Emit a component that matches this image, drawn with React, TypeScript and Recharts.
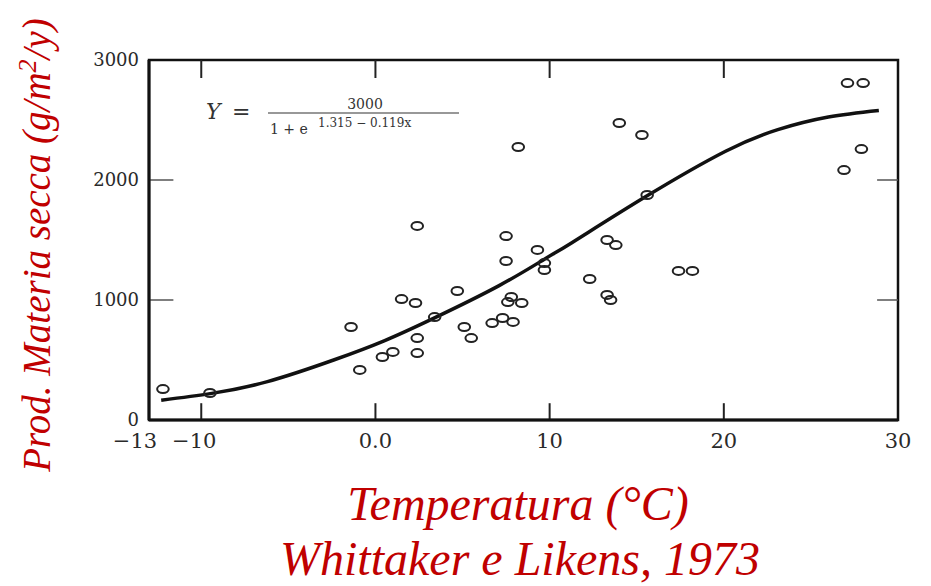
import React from 'react';
import {
  ComposedChart, XAxis, YAxis, Scatter, Line, ReferenceArea, ReferenceLine, Customized,
} from 'recharts';

const pointX = [-12.2, -9.5, -1.4, -0.9, 0.4, 1.0, 1.5, 2.3, 2.4, 2.4, 2.4, 3.4, 4.7, 5.1, 5.5, 6.7, 7.3, 7.5, 7.5, 7.8, 7.6, 7.9, 8.4, 8.2, 9.3, 9.7, 9.7, 12.3, 13.3, 13.8, 13.3, 13.5, 14.0, 15.3, 15.6, 17.4, 18.2, 27.1, 28.0, 27.9, 26.9];
const pointY = [258, 225, 775, 417, 525, 567, 1008, 975, 1617, 683, 558, 858, 1075, 775, 683, 808, 850, 1533, 1325, 1025, 983, 817, 975, 2275, 1417, 1308, 1250, 1175, 1500, 1458, 1042, 1000, 2475, 2375, 1875, 1242, 1242, 2808, 2808, 2258, 2083];

const curveX = [-12.3, -9.4, -6.2, -2.4, 0.5, 3.3, 7.1, 9.7, 11.3, 15.5, 20.1, 23.1, 26.0, 28.9];
const curveY = [165, 222, 320, 500, 660, 845, 1120, 1340, 1480, 1860, 2240, 2420, 2525, 2580];

const xTicks = [-13, -10, 0, 10, 20, 30];
const xTickLabels = ['\u221213', '\u221210', '0.0', '10', '20', '30'];
const yTicks = [0, 1000, 2000, 3000];
const yTickLabels = ['0', '1000', '2000', '3000'];
const xInnerTicks = [-10, 0, 10, 20];
const yInnerTicks = [1000, 2000];

const points = pointX.map((x, i) => ({ x, y: pointY[i] }));
const curve = curveX.map((x, i) => ({ x, y: curveY[i] }));

const RED = '#c00000';
const TICK = '#2a2a2a';

const Ring = (props: any) => {
  const { cx, cy } = props;
  if (cx == null || cy == null) return null;
  return <ellipse cx={cx} cy={cy} rx={5.8} ry={4} fill="none" stroke="#222" strokeWidth={2} />;
};

const XTick = (props: any) => {
  const { x, y, payload } = props;
  const idx = xTicks.indexOf(payload.value);
  const shift = payload.value === -13 ? -14 : payload.value === -10 ? -7 : 0;
  return (
    <text x={x + shift} y={y} dy="0.71em" textAnchor="middle" fontFamily="DejaVu Serif" fontSize={21} fill={TICK}>
      {idx >= 0 ? xTickLabels[idx] : payload.value}
    </text>
  );
};

const YTick = (props: any) => {
  const { x, y, payload } = props;
  const idx = yTicks.indexOf(payload.value);
  return (
    <text x={x} y={y} dy="0.35em" textAnchor="end" fontFamily="DejaVu Serif" fontSize={18} fill={TICK}>
      {idx >= 0 ? yTickLabels[idx] : payload.value}
    </text>
  );
};

const Texts = () => (
  <g>
    <text transform="translate(50,245) rotate(-90)" textAnchor="middle" fontFamily="Liberation Serif" fontStyle="italic" fontSize={39} fill={RED}>
      Prod. Materia secca (g/m<tspan dy={-14} fontSize={26}>2</tspan><tspan dy={14}>/y)</tspan>
    </text>
    <text x={518} y={520} textAnchor="middle" fontFamily="Liberation Serif" fontStyle="italic" fontSize={48} fill={RED}>
      Temperatura (°C)
    </text>
    <text x={520} y={575} textAnchor="middle" fontFamily="Liberation Serif" fontStyle="italic" fontSize={48} fill={RED}>
      Whittaker e Likens, 1973
    </text>
    <g fill="#333" fontFamily="DejaVu Serif">
      <text x={206} y={119} fontSize={22} fontStyle="italic">Y</text>
      <text x={232} y={119} fontSize={22}>=</text>
      <text x={365} y={109} fontSize={14} textAnchor="middle">3000</text>
      <line x1={268} y1={113} x2={459} y2={113} stroke="#333" strokeWidth={1.2} />
      <text x={270} y={134} fontSize={14}>1 + e</text>
      <text x={318} y={127} fontSize={12}>1.315 − 0.119x</text>
    </g>
  </g>
);

export default function App() {
  return (
    <div style={{ position: 'absolute', left: 0, top: 0, width: 931, height: 586, background: '#fff' }}>
      <ComposedChart width={931} height={586} margin={{ top: 60, right: 33, bottom: 0, left: 0 }}>
        <XAxis
          type="number"
          dataKey="x"
          domain={[-13, 30]}
          ticks={xTicks}
          allowDataOverflow
          height={166}
          tickSize={0}
          tickMargin={13}
          tickLine={false}
          axisLine={{ stroke: '#111', strokeWidth: 3 }}
          tick={<XTick />}
        />
        <YAxis
          type="number"
          dataKey="y"
          domain={[0, 3000]}
          ticks={yTicks}
          allowDataOverflow
          width={149}
          tickSize={0}
          tickMargin={10}
          tickLine={false}
          axisLine={{ stroke: '#111', strokeWidth: 3 }}
          tick={<YTick />}
        />
        <ReferenceArea x1={-13} x2={30} y1={0} y2={3000} fill="none" stroke="#111" strokeWidth={2.5} ifOverflow="visible" />
        {xInnerTicks.map((t) => (
          <ReferenceLine key={'b' + t} segment={[{ x: t, y: 0 }, { x: t, y: 140 }]} stroke="#222" strokeWidth={2} ifOverflow="visible" />
        ))}
        {xInnerTicks.map((t) => (
          <ReferenceLine key={'t' + t} segment={[{ x: t, y: 3000 }, { x: t, y: 2850 }]} stroke="#222" strokeWidth={2} ifOverflow="visible" />
        ))}
        {yInnerTicks.map((t) => (
          <ReferenceLine key={'l' + t} segment={[{ x: -13, y: t }, { x: -11.6, y: t }]} stroke="#555" strokeWidth={1.5} ifOverflow="visible" />
        ))}
        {yInnerTicks.map((t) => (
          <ReferenceLine key={'r' + t} segment={[{ x: 30, y: t }, { x: 28.8, y: t }]} stroke="#555" strokeWidth={1.5} ifOverflow="visible" />
        ))}
        <Line data={curve} dataKey="y" type="natural" stroke="#111" strokeWidth={3.5} dot={false} activeDot={false} isAnimationActive={false} />
        <Scatter data={points} dataKey="y" shape={<Ring />} isAnimationActive={false} />
        <Customized component={Texts} />
      </ComposedChart>
    </div>
  );
}
